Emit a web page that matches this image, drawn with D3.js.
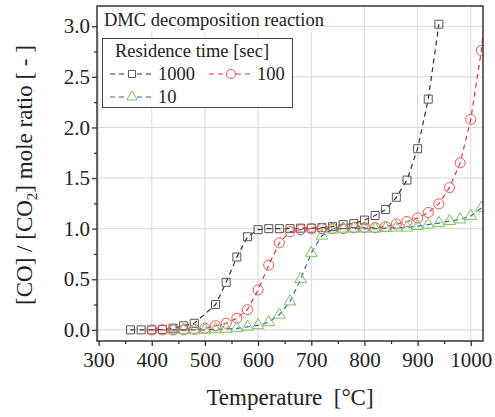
<!DOCTYPE html>
<html>
<head>
<meta charset="utf-8">
<script src="https://cdn.jsdelivr.net/npm/d3@7"></script>
<style>
body { margin: 0; background: #fff; }
text { font-family: "Liberation Serif", "Times New Roman", serif; fill: #222; }
</style>
</head>
<body>
<svg></svg>
<script>
// residence time 1000 s
var temp1000 = [360,380,400,420,440,460,480,520,540,560,580,600,620,640,660,680,700,720,740,760,780,800,820,840,860,880,900,920,940];
var ratio1000 = [0,0,0,0.005,0.017,0.04,0.065,0.25,0.47,0.72,0.92,0.99,1.0,1.0,1.0,1.005,1.005,1.01,1.02,1.04,1.05,1.085,1.13,1.19,1.31,1.48,1.79,2.28,3.02];
// residence time 100 s
var temp100 = [400,420,440,460,480,500,520,540,560,580,600,620,640,660,680,700,720,740,760,780,800,820,840,860,880,900,920,940,960,980,1000,1020,1040];
var ratio100 = [0,0,0,0,0.005,0.015,0.04,0.065,0.115,0.2,0.395,0.64,0.86,0.97,0.99,1.0,1.0,1.0,1.0,1.01,1.01,1.01,1.02,1.045,1.07,1.105,1.16,1.245,1.405,1.65,2.08,2.76,3.9];
// residence time 10 s
var temp10 = [440,460,480,500,520,540,560,580,600,620,640,660,680,700,720,740,760,780,800,820,840,860,880,900,920,940,960,980,1000,1020];
var ratio10 = [0,0,0,0,0.005,0.01,0.015,0.03,0.045,0.075,0.15,0.28,0.5,0.76,0.93,0.99,1.0,1.0,1.0,1.0,1.005,1.01,1.01,1.025,1.04,1.055,1.075,1.09,1.125,1.205];

var xTicks = [300,400,500,600,700,800,900,1000];
var yTicks = [0,0.5,1.0,1.5,2.0,2.5,3.0];

function drawChart() {
var width = 495, height = 417;
var pl = 97, pr = 483, pt = 6, pb = 341;

var svg = d3.select("svg").attr("width", width).attr("height", height);

var x = d3.scaleLinear().domain([297, 1023]).range([pl, pr]);
var y = d3.scaleLinear().domain([-0.11, 3.2]).range([pb, pt]);

svg.append("clipPath").attr("id", "clip")
  .append("rect").attr("x", pl).attr("y", pt)
  .attr("width", pr - pl).attr("height", pb - pt);

// grid
svg.append("g").selectAll("line").data(xTicks).enter().append("line")
  .attr("x1", d => x(d)).attr("x2", d => x(d))
  .attr("y1", pt).attr("y2", pb)
  .style("stroke", "#d8d8d8").style("stroke-width", 1);
svg.append("g").selectAll("line").data(yTicks).enter().append("line")
  .attr("x1", pl).attr("x2", pr)
  .attr("y1", d => y(d)).attr("y2", d => y(d))
  .style("stroke", "#d8d8d8").style("stroke-width", 1);

var series = [
  {name: "1000", t: temp1000, v: ratio1000, line: "#333333", mark: "#555555", sym: d3.symbolSquare, size: 64},
  {name: "100", t: temp100, v: ratio100, line: "#e83535", mark: "#f25555", sym: d3.symbolCircle, size: 80},
  {name: "10", t: temp10, v: ratio10, line: "#2f62c4", mark: "#7cc45a", sym: d3.symbolTriangle, size: 60}
];

var plot = svg.append("g").attr("clip-path", "url(#clip)");
var line = d3.line().x(d => x(d[0])).y(d => y(d[1]));

series.forEach(function(s) {
  var pts = s.t.map(function(t, i) { return [t, s.v[i]]; });
  plot.append("path").datum(pts)
    .attr("d", line)
    .style("fill", "none")
    .style("stroke", s.line)
    .style("stroke-width", 1.2)
    .style("stroke-dasharray", "5,4");
  plot.selectAll(null).data(pts).enter().append("path")
    .attr("d", d3.symbol().type(s.sym).size(s.size))
    .attr("transform", d => "translate(" + x(d[0]) + "," + y(d[1]) + ")")
    .style("fill", "none")
    .style("stroke", s.mark)
    .style("stroke-width", 1);
});

// frame
svg.append("rect").attr("x", pl).attr("y", pt)
  .attr("width", pr - pl).attr("height", pb - pt)
  .style("fill", "none").style("stroke", "#333").style("stroke-width", 1.5);

// axes
var xAxis = svg.append("g").attr("transform", "translate(0," + pb + ")")
  .call(d3.axisBottom(x).tickValues(xTicks).tickSize(5).tickSizeOuter(0).tickFormat(d3.format("d")));
svg.append("g").attr("transform", "translate(0," + pb + ")")
  .call(d3.axisBottom(x).tickValues([350,450,550,650,750,850,950]).tickSize(3).tickFormat(""));
var yAxis = svg.append("g").attr("transform", "translate(" + pl + ",0)")
  .call(d3.axisLeft(y).tickValues(yTicks).tickSize(5).tickSizeOuter(0).tickFormat(d3.format(".1f")));
svg.append("g").attr("transform", "translate(" + pl + ",0)")
  .call(d3.axisLeft(y).tickValues([0.25,0.75,1.25,1.75,2.25,2.75]).tickSize(3).tickFormat(""));

svg.selectAll(".domain").remove();
svg.selectAll(".tick line").style("stroke", "#333").style("stroke-width", 1.3);
xAxis.selectAll("text").style("font-size", "21px").attr("dy", "0.95em").attr("y", 6);
yAxis.selectAll("text").style("font-size", "21px").attr("x", -7);
svg.selectAll(".tick text").style("fill", "#222").style("font-family", "Liberation Serif");

// axis titles
svg.append("text").attr("x", 290).attr("y", 405)
  .attr("text-anchor", "middle").style("font-size", "23px")
  .text("Temperature\u00A0\u00A0[\u00B0C]");

var yt = svg.append("text")
  .attr("transform", "translate(32,175) rotate(-90)")
  .attr("text-anchor", "middle").style("font-size", "23px");
yt.append("tspan").text("[CO] / [CO");
yt.append("tspan").attr("dy", 5).style("font-size", "15px").text("2");
yt.append("tspan").attr("dy", -5).text("] mole ratio [ - ]");

// title box
svg.append("rect").attr("x", pl + 1).attr("y", pt + 1)
  .attr("width", 224).attr("height", 25).style("fill", "#fff");
svg.append("text").attr("x", 104).attr("y", 26)
  .style("font-size", "18.5px").text("DMC decomposition reaction");

// legend
var lg = svg.append("g");
lg.append("rect").attr("x", 102.5).attr("y", 38.5).attr("width", 190).attr("height", 69)
  .style("fill", "#fff").style("stroke", "#444").style("stroke-width", 1);
lg.append("text").attr("x", 115).attr("y", 57).style("font-size", "18.5px").text("Residence time [sec]");

var legPos = [[110, 74], [209, 74], [110, 97]];
series.forEach(function(s, i) {
  var p = legPos[i];
  lg.append("line").attr("x1", p[0]).attr("x2", p[0] + 44)
    .attr("y1", p[1]).attr("y2", p[1])
    .style("stroke", s.line).style("stroke-width", 1.2).style("stroke-dasharray", "5,4");
  lg.append("path")
    .attr("d", d3.symbol().type(s.sym).size(s.size * 0.8))
    .attr("transform", "translate(" + (p[0] + 22) + "," + p[1] + ")")
    .style("fill", "#fff").style("stroke", s.mark).style("stroke-width", 1);
  lg.append("text").attr("x", p[0] + 48).attr("y", p[1] + 6)
    .style("font-size", "18.5px").text(s.name);
});
}
drawChart();
</script>
</body>
</html>
